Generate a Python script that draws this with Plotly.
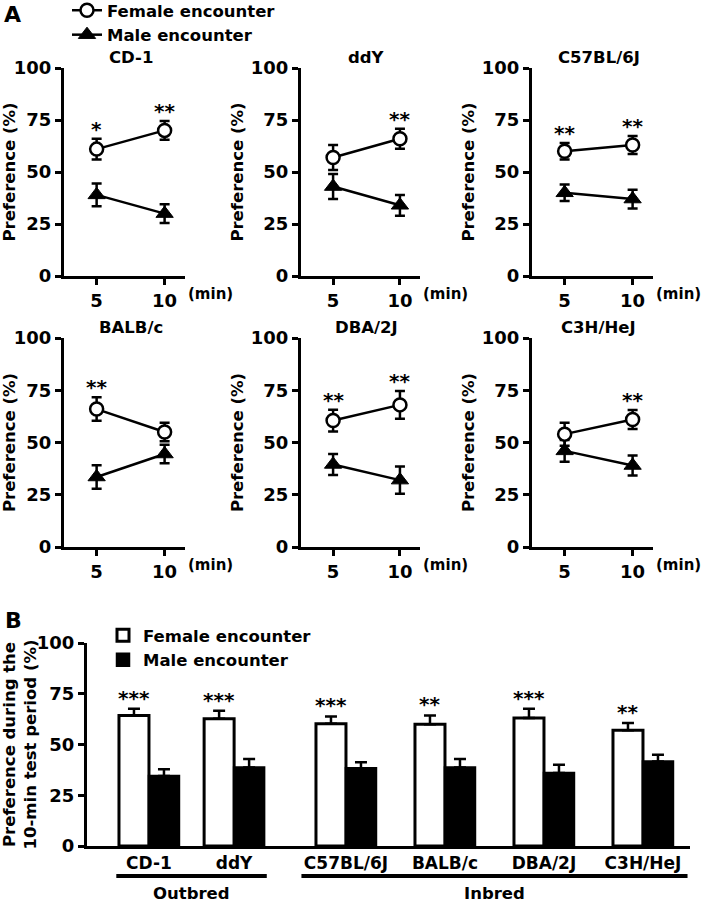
import plotly.graph_objects as go

# ---------------- data ----------------
strains = ["CD-1", "ddY", "C57BL/6J", "BALB/c", "DBA/2J", "C3H/HeJ"]
times = [5, 10]

female_mean = [[61, 70], [57, 66], [60, 63], [66, 55], [60.5, 68], [54, 61]]
female_sem = [[5, 4.5], [6, 4.8], [4, 4.3], [5.6, 4.4], [5.2, 6.6], [5.5, 4.6]]
male_mean = [[39, 30], [43, 34], [40, 37], [33.5, 44.5], [39.5, 32], [46, 39]]
male_sem = [[5.5, 4.5], [6, 5], [4, 4.5], [5.6, 4.4], [5, 6.5], [5.2, 4.8]]
sig_A = [["*", "**"], ["", "**"], ["**", "**"], ["**", ""], ["**", "**"], ["", "**"]]

female_10 = [64.3, 62.7, 60.2, 60.0, 63.0, 57.0]
female_10_sem = [3.3, 3.9, 3.6, 4.3, 4.6, 3.6]
male_10 = [34.5, 38.7, 38.3, 38.7, 35.9, 41.6]
male_10_sem = [3.3, 4.1, 3.0, 4.1, 4.1, 3.3]
sig_B = ["***", "***", "***", "**", "***", "**"]
groups = ["Outbred", "Outbred", "Inbred", "Inbred", "Inbred", "Inbred"]

y_ticks = [0, 25, 50, 75, 100]

# ---------------- style / layout ----------------
W, H = 702, 908
FONT = "DejaVu Sans"
col_px = [(64, 185), (301, 420), (532, 653)]
row_px = [(68, 276), (338, 547)]


def px_x(p):
    return p / W


def px_y(p):
    return 1 - p / H


fig = go.Figure()
annotations = []
shapes = []

axis_common = dict(showline=True, linecolor="black", linewidth=3, ticks="outside",
                   ticklen=6, tickwidth=3, tickcolor="black", showgrid=False,
                   zeroline=False, tickfont=dict(family=FONT, size=18, color="black", weight="bold"))

for i, name in enumerate(strains):
    k = i + 1
    r, c = divmod(i, 3)
    xs = "x" if k == 1 else f"x{k}"
    ys = "y" if k == 1 else f"y{k}"
    fig.add_trace(go.Scatter(
        x=times, y=male_mean[i], xaxis=xs, yaxis=ys, mode="lines+markers",
        name="Male encounter", legend="legend", showlegend=(i == 0),
        line=dict(color="black", width=2.5),
        marker=dict(symbol="triangle-up", size=15, color="black",
                    line=dict(color="black", width=1)),
        error_y=dict(type="data", array=male_sem[i], visible=True, color="black",
                     thickness=2.5, width=5),
        cliponaxis=False))
    fig.add_trace(go.Scatter(
        x=times, y=female_mean[i], xaxis=xs, yaxis=ys, mode="lines+markers",
        name="Female encounter", legend="legend", showlegend=(i == 0),
        line=dict(color="black", width=2.5),
        marker=dict(symbol="circle", size=13, color="white",
                    line=dict(color="black", width=2.5)),
        error_y=dict(type="data", array=female_sem[i], visible=True, color="black",
                     thickness=2.5, width=5),
        cliponaxis=False))

    x0, x1 = col_px[c]
    yt, yb = row_px[r]
    fig.layout[f"xaxis{k}" if k > 1 else "xaxis"] = dict(
        domain=[px_x(x0), px_x(x1)], anchor=ys, range=[2.6, 11.5],
        tickvals=times, **axis_common)
    fig.layout[f"yaxis{k}" if k > 1 else "yaxis"] = dict(
        domain=[px_y(yb), px_y(yt)], anchor=xs, range=[0, 100],
        tickvals=y_ticks,
        title=dict(text="Preference (%)", standoff=4,
                   font=dict(family=FONT, size=16.5, color="black", weight="bold")),
        **axis_common)

    # strain title
    annotations.append(dict(text=name, x=7.5, xref=xs, y=1, yref=f"{ys} domain",
                            yanchor="middle", yshift=11, showarrow=False,
                            font=dict(family=FONT, size=16.5, color="black", weight="bold")))
    # (min)
    annotations.append(dict(text="(min)", x=1, xref=f"{xs} domain", xanchor="left", xshift=1,
                            y=0, yref=f"{ys} domain", yanchor="middle", yshift=-18,
                            showarrow=False,
                            font=dict(family=FONT, size=15, color="black", weight="bold")))
    # stars
    for j, t in enumerate(times):
        if sig_A[i][j]:
            annotations.append(dict(text=sig_A[i][j], x=t, xref=xs,
                                    y=female_mean[i][j] + female_sem[i][j], yref=ys,
                                    yanchor="bottom", yshift=-4, showarrow=False,
                                    font=dict(family=FONT, size=20, color="black", weight="bold")))

# ---------------- panel B ----------------
positions = []
xpos = 0.0
for i, g in enumerate(groups):
    if i > 0:
        if g != groups[i - 1]:
            xpos += 1.13
        elif g == "Outbred":
            xpos += 0.86
        else:
            xpos += 1.0
    positions.append(xpos)

bw = 0.303
fig.add_trace(go.Bar(
    x=positions, y=female_10, xaxis="x7", yaxis="y7", name="Female encounter",
    legend="legend2", width=bw, offset=-bw,
    marker=dict(color="white", line=dict(color="black", width=3)),
    error_y=dict(type="data", array=female_10_sem, arrayminus=[0] * len(female_10),
                 symmetric=False, visible=True, color="black", thickness=2.5, width=6)))
fig.add_trace(go.Bar(
    x=positions, y=male_10, xaxis="x7", yaxis="y7", name="Male encounter",
    legend="legend2", width=bw, offset=0,
    marker=dict(color="black", line=dict(color="black", width=2.5)),
    error_y=dict(type="data", array=male_10_sem, arrayminus=[0] * len(male_10),
                 symmetric=False, visible=True, color="black", thickness=2.5, width=6)))

bx = dict(axis_common)
bx.update(ticks="", ticklen=0)
bx["tickfont"] = dict(family=FONT, size=17, color="black", weight="bold")
fig.layout.xaxis7 = dict(domain=[px_x(87), px_x(690)], anchor="y7",
                         range=[positions[0] - 0.626, positions[-1] + 0.475],
                         tickvals=positions, ticktext=strains, **bx)
fig.layout.yaxis7 = dict(domain=[px_y(846), px_y(643)], anchor="x7", range=[0, 100],
                         tickvals=y_ticks,
                         title=dict(text="Preference during the<br>10-min test period (%)",
                                    standoff=4,
                                    font=dict(family=FONT, size=16.5, color="black", weight="bold")),
                         **axis_common)

for i in range(len(strains)):
    annotations.append(dict(text=sig_B[i], x=positions[i] - bw / 2, xref="x7",
                            y=female_10[i] + female_10_sem[i], yref="y7",
                            yanchor="bottom", yshift=-3, showarrow=False,
                            font=dict(family=FONT, size=20, color="black", weight="bold")))

for g, ext in (("Outbred", 0.33), ("Inbred", 0.45)):
    gp = [p for p, gg in zip(positions, groups) if gg == g]
    shapes.append(dict(type="line", xref="x7", yref="paper", x0=gp[0] - ext, x1=gp[-1] + ext,
                       y0=px_y(876), y1=px_y(876), line=dict(color="black", width=4)))
    annotations.append(dict(text=g, x=(gp[0] + gp[-1]) / 2, xref="x7", y=px_y(893), yref="paper",
                            yanchor="middle", showarrow=False,
                            font=dict(family=FONT, size=16.5, color="black", weight="bold")))

# panel letters
annotations.append(dict(text="A", x=px_x(2), y=px_y(0), xref="paper", yref="paper",
                        xanchor="left", yanchor="top", showarrow=False,
                        font=dict(family=FONT, size=22, color="black", weight="bold")))
annotations.append(dict(text="B", x=px_x(3), y=px_y(606), xref="paper", yref="paper",
                        xanchor="left", yanchor="top", showarrow=False,
                        font=dict(family=FONT, size=22, color="black", weight="bold")))

legend_font = dict(family=FONT, size=16.5, color="black", weight="bold")
fig.update_layout(
    width=W, height=H, margin=dict(l=0, r=0, t=0, b=0, autoexpand=False),
    paper_bgcolor="white", plot_bgcolor="white",
    annotations=annotations, shapes=shapes, showlegend=True,
    legend=dict(x=px_x(67), y=px_y(-7), xanchor="left", yanchor="top",
                traceorder="reversed", font=legend_font, bgcolor="rgba(0,0,0,0)",
                itemwidth=30, tracegroupgap=0),
    legend2=dict(x=px_x(103), y=px_y(618), xanchor="left", yanchor="top",
                 font=legend_font, bgcolor="rgba(0,0,0,0)", tracegroupgap=0),
)

fig.write_html("out.html", config={"displayModeBar": False},
               post_script="document.body.style.margin='0';")
